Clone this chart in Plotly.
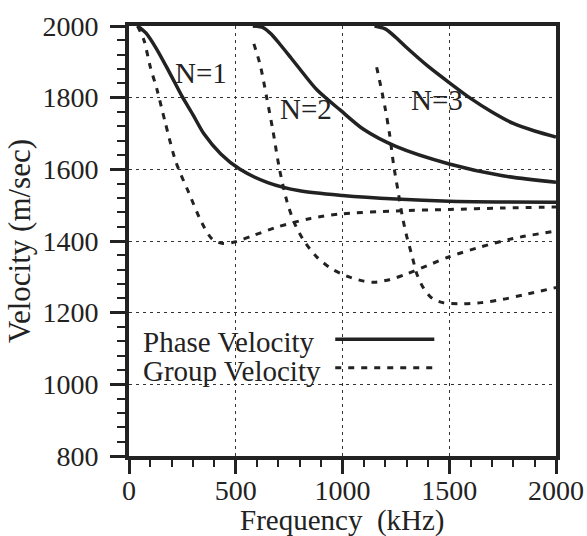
import plotly.graph_objects as go

# ---- data: phase and group velocity of Lamb-type modes N=1..3 ----
freq_p1 = [40, 80, 130, 190, 250, 300, 350, 430, 520, 650, 800, 1000, 1250, 1500, 1750, 2000]
vel_p1 = [2000, 1980, 1935, 1870, 1802, 1752, 1700, 1643, 1600, 1563, 1540, 1527, 1517, 1511, 1509, 1508]

freq_g1 = [40, 70, 100, 130, 170, 220, 280, 340, 390, 440, 500, 580, 700, 850, 1000, 1250, 1500, 1750, 2000]
vel_g1 = [2000, 1960, 1885, 1825, 1730, 1620, 1535, 1452, 1405, 1393, 1398, 1415, 1440, 1463, 1476, 1484, 1488, 1492, 1495]

freq_p2 = [580, 630, 670, 710, 760, 800, 880, 990, 1100, 1250, 1500, 1750, 2000]
vel_p2 = [2000, 1995, 1975, 1947, 1910, 1880, 1822, 1765, 1711, 1664, 1615, 1582, 1564]

freq_g2 = [585, 615, 645, 675, 705, 740, 775, 820, 880, 950, 1020, 1100, 1150, 1220, 1300, 1400, 1500, 1650, 1800, 2000]
vel_g2 = [1950, 1890, 1800, 1705, 1600, 1510, 1450, 1400, 1355, 1322, 1302, 1288, 1285, 1292, 1308, 1332, 1356, 1384, 1407, 1428]

freq_p3 = [1150, 1200, 1250, 1300, 1400, 1500, 1600, 1700, 1800, 1900, 2000]
vel_p3 = [2000, 1992, 1968, 1940, 1888, 1842, 1798, 1760, 1728, 1707, 1690]

freq_g3 = [1160, 1180, 1200, 1220, 1240, 1260, 1280, 1300, 1325, 1350, 1380, 1420, 1470, 1550, 1650, 1750, 1850, 2000]
vel_g3 = [1885, 1830, 1770, 1700, 1610, 1540, 1470, 1415, 1360, 1305, 1268, 1240, 1228, 1225, 1228, 1237, 1250, 1270]

mode_labels = ["N=1", "N=2", "N=3"]
label_freq = [335, 831, 1444]
label_vel = [1869, 1768, 1793]

legend_names = ["Phase Velocity", "Group Velocity"]

x_ticks = [0, 500, 1000, 1500, 2000]
y_ticks = [800, 1000, 1200, 1400, 1600, 1800, 2000]

INK = "#222222"
FONT = "Liberation Serif"
FS = 28
DASH = "6px,7px"

fig = go.Figure()

for fx, vy in [(freq_p1, vel_p1), (freq_p2, vel_p2), (freq_p3, vel_p3)]:
    fig.add_trace(go.Scatter(x=fx, y=vy, mode="lines",
                             line=dict(color=INK, width=3.5, shape="spline", smoothing=0.8),
                             showlegend=False, hoverinfo="skip"))
for fx, vy in [(freq_g1, vel_g1), (freq_g2, vel_g2), (freq_g3, vel_g3)]:
    fig.add_trace(go.Scatter(x=fx, y=vy, mode="lines",
                             line=dict(color=INK, width=3, dash=DASH, shape="spline", smoothing=0.8),
                             showlegend=False, hoverinfo="skip"))

# mode labels
for txt, fx, vy in zip(mode_labels, label_freq, label_vel):
    fig.add_annotation(x=fx, y=vy, text=txt, showarrow=False,
                       font=dict(family=FONT, size=FS + 1, color=INK),
                       xanchor="center", yanchor="middle")

# legend block: text on the left, line sample on the right
legend_y = [1118, 1038]
legend_line_y = [1126, 1046]
legend_dash = ["solid", DASH]
for name, ty, ly, dsh in zip(legend_names, legend_y, legend_line_y, legend_dash):
    fig.add_annotation(x=54, y=ty, text=name, showarrow=False,
                       font=dict(family=FONT, size=FS + 1, color=INK),
                       xanchor="left", yanchor="middle")
    fig.add_trace(go.Scatter(x=[966, 1430], y=[ly, ly], mode="lines",
                             line=dict(color=INK, width=3.5 if dsh == "solid" else 3, dash=dsh),
                             showlegend=False, hoverinfo="skip"))

axis_common = dict(
    showline=True, linewidth=4, linecolor=INK, mirror=True,
    ticks="outside", tickwidth=2.5, tickcolor=INK,
    showgrid=True, gridcolor="#333333", gridwidth=1.3, griddash="3px,4px",
    zeroline=False, automargin=False,
    tickfont=dict(family=FONT, size=FS, color=INK),
)

fig.update_xaxes(range=[0, 2000], tickvals=x_ticks, ticklen=14,
                 minor=dict(dtick=100, ticklen=7, tickwidth=2, tickcolor=INK, ticks="outside", showgrid=False),
                 ticklabelstandoff=-8,
                 **axis_common)
fig.update_yaxes(range=[800, 2000], tickvals=y_ticks, ticklen=15,
                 minor=dict(dtick=40, ticklen=8, tickwidth=2, tickcolor=INK, ticks="outside", showgrid=False),
                 title=dict(text="Velocity (m/sec)", font=dict(family=FONT, size=31, color=INK), standoff=4),
                 ticklabelstandoff=6,
                 **axis_common)

# x-axis title placed just below the tick labels
fig.add_annotation(xref="paper", yref="paper", x=0.5, y=-0.15,
                   text="Frequency\u00a0\u00a0(kHz)", showarrow=False,
                   font=dict(family=FONT, size=29, color=INK),
                   xanchor="center", yanchor="middle")

fig.update_layout(
    width=587, height=536,
    margin=dict(l=129, r=31, t=26, b=80, pad=0),
    paper_bgcolor="white", plot_bgcolor="white",
    showlegend=False,
)

fig.write_html("out.html")
